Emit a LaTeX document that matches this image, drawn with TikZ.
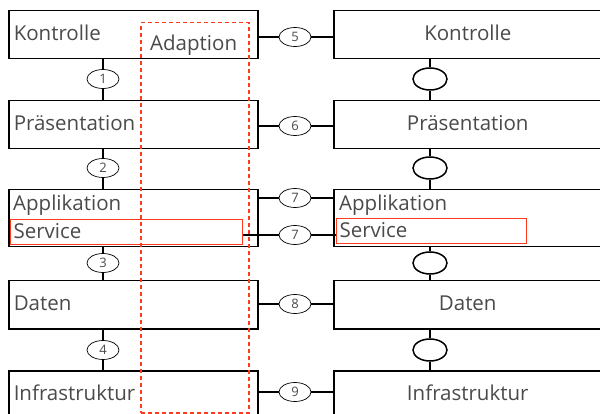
\documentclass[tikz,border=0pt]{standalone}
\usepackage{fontspec}
\setmainfont{Open Sans}
\usetikzlibrary{positioning, shapes.geometric}
\definecolor{txtgray}{HTML}{4A4A4A}
\definecolor{adred}{HTML}{FF3B1F}

\tikzset{
  layer/.style={draw, line width=1.5pt, minimum width=249pt, minimum height=48pt, anchor=north west,
    inner sep=5pt, text width=239pt, align=left, text depth=4pt, font=\fontsize{20.5}{22}\selectfont, text=txtgray},
  rlayer/.style={layer, minimum width=268pt, text width=258pt, align=center},
  lbl/.style={inner sep=0pt, anchor=base west, font=\fontsize{20.5}{22}\selectfont, text=txtgray},
  svc/.style={draw=adred, line width=1.2pt, minimum height=25pt, anchor=north west, inner sep=3pt,
    align=left, text depth=2pt, font=\fontsize{20.5}{22}\selectfont, text=txtgray},
  ifc/.style={draw, ellipse, line width=0.7pt, minimum width=32pt, minimum height=19pt, inner sep=0pt,
    font=\fontsize{13}{13}\selectfont, text=txtgray, fill=white},
  rifc/.style={draw, ellipse, line width=1.5pt, minimum width=34pt, minimum height=22pt, inner sep=0pt},
  conn/.style={line width=2.5pt},
  adapt/.style={draw=adred, line width=1.5pt, dash pattern=on 4pt off 3pt},
}

\begin{document}
\begin{tikzpicture}[x=1pt, y=-1pt]
\useasboundingbox (0,0) rectangle (600,414);

% linke Seite
\node[layer] (ktl) at (8,10) {Kontrolle};
\node[layer] (prs) at (8,100) {Präsentation};
\node[layer, minimum height=57pt] (apl) at (8,189) {};
\node[lbl] (aplt) at (13,211) {Applikation};
\node[svc, minimum width=232pt, text width=226pt] (svl) at (10,219) {Service};
\node[layer] (dat) at (8,280) {Daten};
\node[layer] (inf) at (8,370) {Infrastruktur};

% rechte Seite
\node[rlayer] (rktl) at (333,10) {Kontrolle};
\node[rlayer] (rprs) at (333,100) {Präsentation};
\node[rlayer, minimum height=57pt] (rapl) at (333,189) {};
\node[lbl] (raplt) at (339,211) {Applikation};
\node[svc, minimum width=190pt, text width=184pt] (svr) at (336,218) {Service};
\node[rlayer] (rdat) at (333,280) {Daten};
\node[rlayer] (rinf) at (333,370) {Infrastruktur};

% vertikale Schnittstellen
\node[ifc] (i1) at (103,79) {1};
\node[ifc] (i2) at (103,168) {2};
\node[ifc] (i3) at (103,263) {3};
\node[ifc] (i4) at (103,350) {4};
\draw[conn] (i1) -- (i1 |- ktl.south);  \draw[conn] (i1) -- (i1 |- prs.north);
\draw[conn] (i2) -- (i2 |- prs.south);  \draw[conn] (i2) -- (i2 |- apl.north);
\draw[conn] (i3) -- (i3 |- apl.south);  \draw[conn] (i3) -- (i3 |- dat.north);
\draw[conn] (i4) -- (i4 |- dat.south);  \draw[conn] (i4) -- (i4 |- inf.north);

\node[rifc] (r1) at (430,79) {};
\node[rifc] (r2) at (430,168) {};
\node[rifc] (r3) at (430,263) {};
\node[rifc] (r4) at (430,350) {};
\draw[conn] (r1) -- (r1 |- rktl.south);  \draw[conn] (r1) -- (r1 |- rprs.north);
\draw[conn] (r2) -- (r2 |- rprs.south);  \draw[conn] (r2) -- (r2 |- rapl.north);
\draw[conn] (r3) -- (r3 |- rapl.south);  \draw[conn] (r3) -- (r3 |- rdat.north);
\draw[conn] (r4) -- (r4 |- rdat.south);  \draw[conn] (r4) -- (r4 |- rinf.north);

% horizontale Schnittstellen
\node[ifc] (i5) at (295,37) {5};
\node[ifc] (i6) at (295,126) {6};
\node[ifc] (i7) at (295,198) {7};
\node[ifc] (i7s) at (295,235) {7};
\node[ifc] (i8) at (295,304) {8};
\node[ifc] (i9) at (295,392) {9};
\draw[conn] (i5) -- (i5 -| ktl.east);  \draw[conn] (i5) -- (i5 -| rktl.west);
\draw[conn] (i6) -- (i6 -| prs.east);  \draw[conn] (i6) -- (i6 -| rprs.west);
\draw[conn] (i7) -- (i7 -| apl.east);  \draw[conn] (i7) -- (i7 -| rapl.west);
\draw[conn] (i7s) -- (i7s -| svl.east);  \draw[conn] (i7s) -- (i7s -| svr.west);
\draw[conn] (i8) -- (i8 -| dat.east);  \draw[conn] (i8) -- (i8 -| rdat.west);
\draw[conn] (i9) -- (i9 -| inf.east);  \draw[conn] (i9) -- (i9 -| rinf.west);

% Adaption
\node[adapt, minimum width=108pt, minimum height=390pt, anchor=north west, inner sep=0pt] (adp) at (140,22) {};
\node[lbl] (adpt) at (150,51) {Adaption};
\end{tikzpicture}
\end{document}
